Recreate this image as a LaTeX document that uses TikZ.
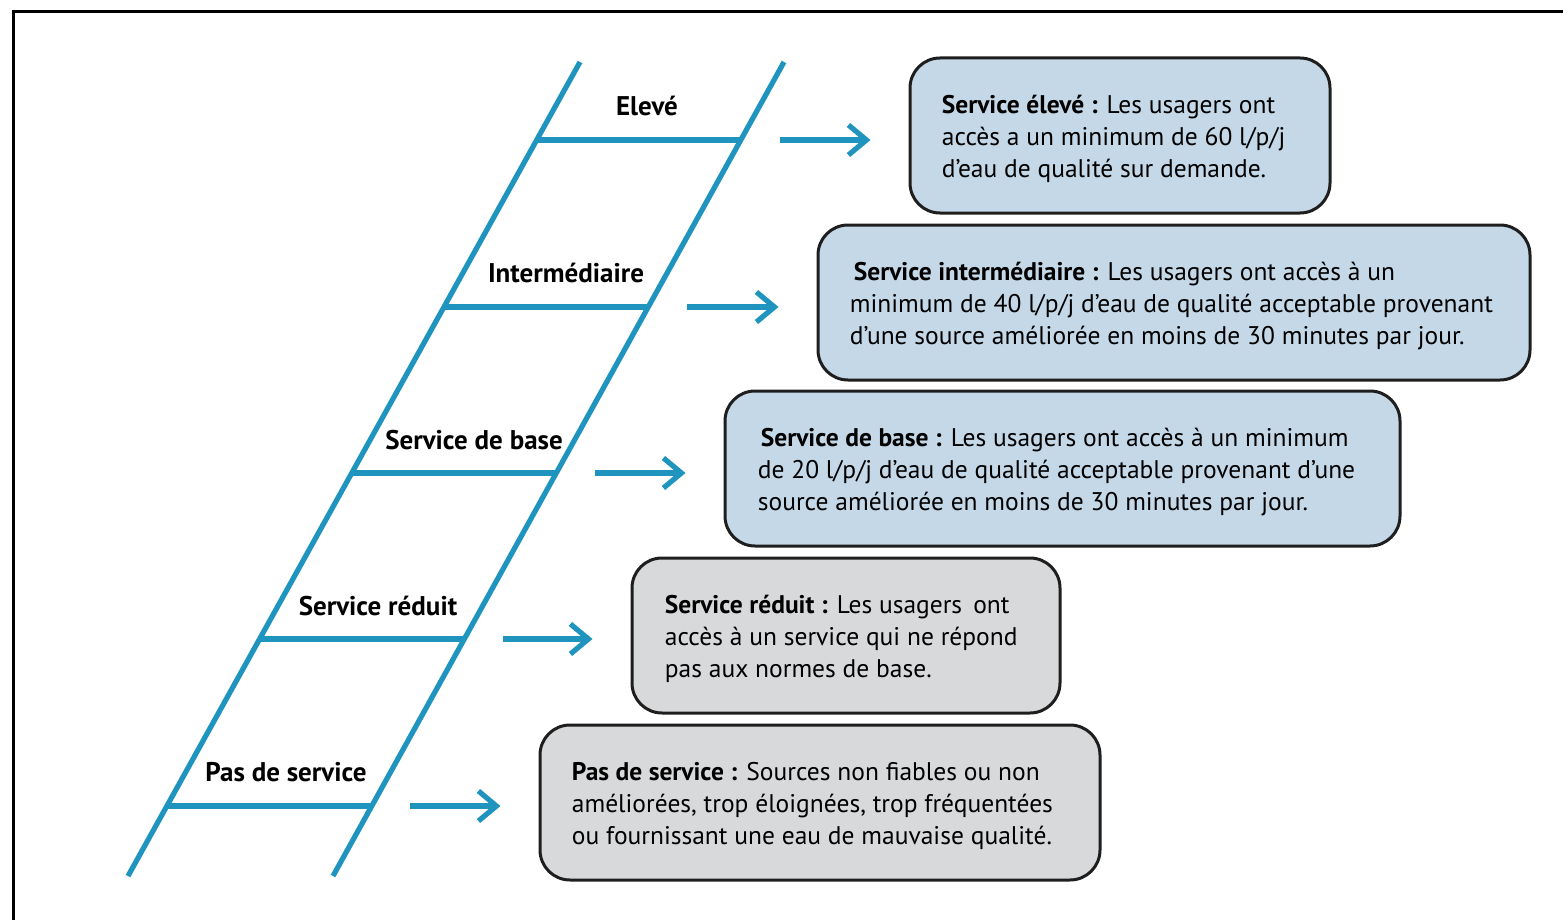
\documentclass[tikz,border=0pt]{standalone}
\usepackage{fontspec}
\setmainfont{PT Sans}
\usetikzlibrary{arrows.meta}
\definecolor{railc}{RGB}{30,148,190}
\definecolor{bluefill}{RGB}{196,216,232}
\definecolor{grayfill}{RGB}{216,217,219}
\definecolor{edgec}{RGB}{30,30,30}
\begin{document}
\begin{tikzpicture}[x=0.5pt,y=-0.5pt,
  railline/.style={draw=railc, line width=2.6pt},
  rungline/.style={draw=railc, line width=2.6pt},
  arr/.style={draw=railc, line width=2.6pt, -{Straight Barb[length=9pt,width=15pt,line width=2.6pt]}},
  lbl/.style={font=\fontsize{13.5}{16}\selectfont\bfseries, inner sep=0pt},
  infobox/.style={draw=edgec, line width=1.5pt, rounded corners=15pt, minimum height=77.5pt, inner sep=0pt},
  bluebox/.style={infobox, fill=bluefill},
  graybox/.style={infobox, fill=grayfill},
  txt/.style={font=\fontsize{12.75}{16}\selectfont, align=left, inner sep=0pt, anchor=west, yshift=-1.8pt}]
\useasboundingbox (0,0) rectangle (1563,920);
% frame
\draw[line width=1.5pt] (13,940) -- (13,12) -- (1580,12);
% rails
\coordinate (L0) at (128,876); \coordinate (L1) at (580,62);
\coordinate (R0) at (333,876); \coordinate (R1) at (784,62);
\draw[railline] (L0) -- (L1);
\draw[railline] (R0) -- (R1);
% rungs
\coordinate (r1s) at (536.7,140); \coordinate (r1e) at (741.7,140);
\coordinate (r2s) at (444.0,307); \coordinate (r2e) at (649.0,307);
\coordinate (r3s) at (351.8,473); \coordinate (r3e) at (556.8,473);
\coordinate (r4s) at (259.6,639); \coordinate (r4e) at (464.6,639);
\coordinate (r5s) at (166.9,806); \coordinate (r5e) at (371.9,806);
\foreach \i in {1,...,5} {\draw[rungline] (r\i s) -- (r\i e);}
% labels
\node[lbl] (l1) at (647,106) {Elevé};
\node[lbl] (l2) at (566,273) {Intermédiaire};
\node[lbl] (l3) at (474,440) {Service de base};
\node[lbl] (l4) at (378,606) {Service réduit};
\node[lbl] (l5) at (286,772) {Pas de service};
% boxes
\node[bluebox, minimum width=210pt] (b1) at (1120,135.5) {};
\node[bluebox, minimum width=356pt] (b2) at (1174,302.5) {};
\node[bluebox, minimum width=337.5pt] (b3) at (1062.5,468.5) {};
\node[graybox, minimum width=214pt] (b4) at (846,635.5) {};
\node[graybox, minimum width=280pt] (b5) at (820,802.5) {};
% texts
\node[txt] (t1) at ([xshift=16.5pt]b1.west) {\textbf{Service élevé :} Les usagers ont\\accès a un minimum de 60 l/p/j\\d'eau de qualité sur demande.};
\node[txt] (t2) at ([xshift=16.5pt]b2.west) {\hspace*{2pt}\textbf{Service intermédiaire :} Les usagers ont accès à un\\minimum de 40 l/p/j d’eau de qualité acceptable provenant\\d’une source améliorée en moins de 30 minutes par jour.};
\node[txt] (t3) at ([xshift=17pt]b3.west) {\hspace*{1.5pt}\textbf{Service de base :} Les usagers ont accès à un minimum\\de 20 l/p/j d’eau de qualité acceptable provenant d’une\\source améliorée en moins de 30 minutes par jour.};
\node[txt] (t4) at ([xshift=17pt]b4.west) {\textbf{Service réduit :} Les usagers\, ont\\accès à un service qui ne répond\\pas aux normes de base.};
\node[txt] (t5) at ([xshift=16.5pt]b5.west) {\textbf{Pas de service :} Sources non fiables ou non\\améliorées, trop éloignées, trop fréquentées\\ou fournissant une eau de mauvaise qualité.};
% arrows
\draw[arr] ([xshift=19pt]r1e) -- ([xshift=-19pt]b1.west |- r1e);
\draw[arr] ([xshift=19pt]r2e) -- ([xshift=-19pt]b2.west |- r2e);
\draw[arr] ([xshift=19pt]r3e) -- ([xshift=-19pt]b3.west |- r3e);
\draw[arr] ([xshift=19pt]r4e) -- ([xshift=-19pt]b4.west |- r4e);
\draw[arr] ([xshift=19pt]r5e) -- ([xshift=-19pt]b5.west |- r5e);
\end{tikzpicture}
\end{document}
